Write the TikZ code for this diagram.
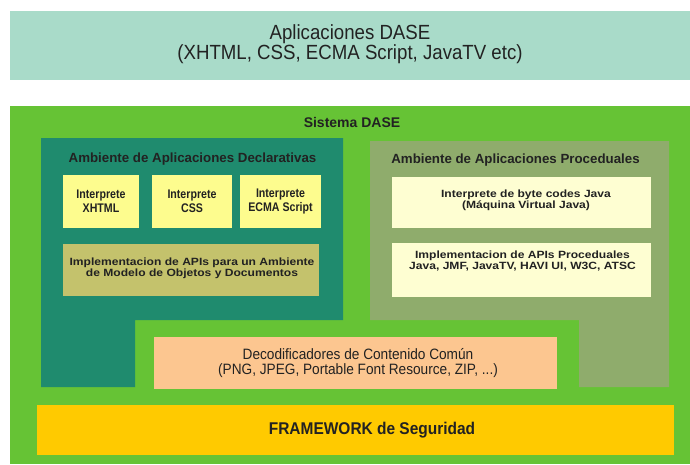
\documentclass[tikz,border=0pt]{standalone}
\usepackage{fontspec}
\setmainfont{Liberation Sans}
\newfontfamily\narrowfont[FakeStretch=0.85]{Liberation Sans}
\newfontfamily\semifont[FakeStretch=0.91]{Liberation Sans}
\newfontfamily\widefont[FakeStretch=1.15]{Liberation Sans}
\definecolor{topc}{HTML}{A9DBC9}
\definecolor{greenc}{HTML}{66C335}
\definecolor{tealc}{HTML}{1F8B6E}
\definecolor{procc}{HTML}{8FAC6C}
\definecolor{yellowc}{HTML}{FDFC8E}
\definecolor{olivec}{HTML}{C4C26C}
\definecolor{creamc}{HTML}{FEFED2}
\definecolor{peachc}{HTML}{FCC690}
\definecolor{goldc}{HTML}{FFCA00}
\definecolor{textc}{HTML}{222222}
\begin{document}
\begin{tikzpicture}[x=1pt,y=-1pt,
  every node/.style={text=textc, align=center, inner sep=0pt},
  toptext/.style={font=\semifont\fontsize{20.5}{18.5}\selectfont},
  systext/.style={font=\bfseries\fontsize{14}{16}\selectfont},
  titletext/.style={font=\bfseries\fontsize{13.3}{15}\selectfont},
  yellowtext/.style={font=\narrowfont\bfseries\fontsize{12.5}{14}\selectfont},
  widetext/.style={font=\widefont\bfseries\fontsize{10.5}{11}\selectfont},
  dectext/.style={font=\semifont\fontsize{15}{15}\selectfont},
  fwtext/.style={font=\semifont\bfseries\fontsize{17}{18}\selectfont}
]
\useasboundingbox (0,0) rectangle (690,464);
\fill[white] (0,0) rectangle (690,464);
% top band
\fill[topc] (10,11) rectangle (690,80);
\node[toptext] (apps) at (350,44) {Aplicaciones DASE\\(XHTML, CSS, ECMA Script, JavaTV etc)};
% outer green system
\fill[greenc] (10,106) rectangle (690,464);
\node[systext] (sys) at (352,122) {Sistema DASE};
% declarative area (L shape)
\fill[tealc] (41,138) -- (343,138) -- (343,320) -- (135,320) -- (135,387) -- (41,387) -- cycle;
\node[titletext] (decl) at (192.5,159) {Ambiente de Aplicaciones Declarativas};
% procedural area (L shape)
\fill[procc] (370,141) -- (669,141) -- (669,387) -- (579,387) -- (579,320) -- (370,320) -- cycle;
\node[titletext] (proc) at (515.5,160) {Ambiente de Aplicaciones Proceduales};
% yellow interpreters
\fill[yellowc] (63,175) rectangle (139,228);
\fill[yellowc] (152,175) rectangle (232,228);
\fill[yellowc] (240,175) rectangle (321,228);
\node[yellowtext] (xhtml) at (101,201) {Interprete\\XHTML};
\node[yellowtext] (css) at (192,201) {Interprete\\CSS};
\node[yellowtext] (ecma) at (280.5,201) {Interprete\\ECMA Script};
% declarative APIs
\fill[olivec] (63,244) rectangle (319,296);
\node[widetext] (dapi) at (192,268.5) {Implementacion de APIs para un Ambiente\\de Modelo de Objetos y Documentos};
% procedural boxes
\fill[creamc] (392,177) rectangle (651,228);
\node[widetext] (jvm) at (526,200.5) {Interprete de byte codes Java\\(Máquina Virtual Java)};
\fill[creamc] (392,243) rectangle (651,297);
\node[widetext] (papi) at (522.5,261.5) {Implementacion de APIs Proceduales\\Java, JMF, JavaTV, HAVI UI, W3C, ATSC};
% decoders
\fill[peachc] (154,337) rectangle (557,389);
\node[dectext] (dec) at (358,363.5) {Decodificadores de Contenido Común\\(PNG, JPEG, Portable Font Resource, ZIP, ...)};
% framework
\fill[goldc] (37,405) rectangle (674,455);
\node[fwtext] (fw) at (372,430) {FRAMEWORK de Seguridad};
\end{tikzpicture}
\end{document}
